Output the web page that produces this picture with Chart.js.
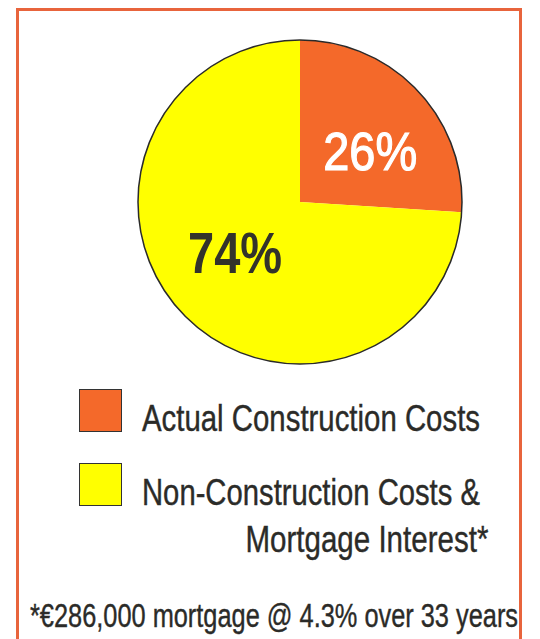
<!DOCTYPE html>
<html>
<head>
<meta charset="utf-8">
<script src="https://cdn.jsdelivr.net/npm/chart.js@4/dist/chart.umd.min.js"></script>
<style>
  html, body { margin: 0; padding: 0; background: #fff; width: 540px; height: 639px; overflow: hidden; }
  body { position: relative; font-family: "Liberation Sans", Arial, sans-serif; color: #2b2b28; }
  #frame { position: absolute; left: 16px; top: 8px; width: 500px; height: 700px; border: 3px solid #e8643c; box-sizing: content-box; }
  #pieWrap { position: absolute; left: 136px; top: 38px; width: 328px; height: 328px; }
  .sw { position: absolute; left: 79px; width: 41px; height: 41px; border: 1.5px solid #333; }
  .txt { position: absolute; white-space: nowrap; line-height: 1; transform-origin: left top; -webkit-text-stroke: 0.4px #2b2b28; }
  .txt.right { transform-origin: right top; }
</style>
</head>
<body>
<div id="frame"></div>
<div id="pieWrap"><canvas id="pie" width="328" height="328"></canvas></div>

<div class="sw" id="sw0" style="top:389px;"></div>
<div class="sw" id="sw1" style="top:463px;"></div>
<div class="txt" id="lg0" style="left:142px; top:400px; font-size:37px;" data-w="338">Actual Construction Costs</div>
<div class="txt" id="lg1" style="left:142px; top:474px; font-size:37px;" data-w="338">Non-Construction Costs &amp;</div>
<div class="txt right" id="lg2" style="top:521px; font-size:37px;" data-w="243" data-r="488">Mortgage Interest*</div>
<div class="txt" id="foot" style="left:30px; top:599px; font-size:33.5px;" data-w="488">*€286,000 mortgage @ 4.3% over 33 years</div>

<script>
// ---- data ----
const categories = ["Actual Construction Costs", "Non-Construction Costs & Mortgage Interest*"];
const shares = [26, 74];
const sliceColors = ["#f4692a", "#ffff00"];
const pctLabels = ["26%", "74%"];
const pctLabelColors = ["#ffffff", "#33332b"];

// legend swatches
document.getElementById('sw0').style.background = sliceColors[0];
document.getElementById('sw1').style.background = sliceColors[1];

// fit text widths horizontally
document.querySelectorAll('.txt').forEach(el => {
  const w = el.getBoundingClientRect().width;
  const target = parseFloat(el.dataset.w);
  const s = target / w;
  if (el.dataset.r) {
    el.style.left = (parseFloat(el.dataset.r) - w) + 'px';
  }
  el.style.transform = 'scaleX(' + s + ')';
});

const labelPlugin = {
  id: 'pieLabels',
  afterDatasetsDraw(chart) {
    const ctx = chart.ctx;
    const meta = chart.getDatasetMeta(0);
    const a0 = meta.data[0];
    // outer outline
    ctx.save();
    ctx.beginPath();
    ctx.arc(a0.x, a0.y, a0.outerRadius, 0, Math.PI * 2);
    ctx.lineWidth = 1.5;
    ctx.strokeStyle = '#2a2a2a';
    ctx.stroke();
    ctx.restore();
    const cfg = [
      { frac: 0.535, size: 53, weight: '', w: 94, dx: 7, dy: 8, stroke: 1.2 },
      { frac: 0.508, size: 57, weight: 'bold ', w: 94, dx: -5, dy: -6, stroke: 0 }
    ];
    meta.data.forEach((arc, i) => {
      const mid = (arc.startAngle + arc.endAngle) / 2;
      const r = arc.outerRadius * cfg[i].frac;
      const x = arc.x + Math.cos(mid) * r + cfg[i].dx;
      const y = arc.y + Math.sin(mid) * r + cfg[i].dy;
      ctx.save();
      ctx.font = cfg[i].weight + cfg[i].size + 'px "Liberation Sans", Arial, sans-serif';
      const mw = ctx.measureText(pctLabels[i]).width;
      const cap = cfg[i].size * 0.716;
      ctx.translate(x, y + cap / 2);
      ctx.scale(cfg[i].w / mw, 1);
      ctx.fillStyle = pctLabelColors[i];
      ctx.textAlign = 'center';
      ctx.textBaseline = 'alphabetic';
      ctx.fillText(pctLabels[i], 0, 0);
      if (cfg[i].stroke) {
        ctx.lineWidth = cfg[i].stroke;
        ctx.strokeStyle = pctLabelColors[i];
        ctx.strokeText(pctLabels[i], 0, 0);
      }
      ctx.restore();
    });
  }
};

new Chart(document.getElementById('pie'), {
  type: 'pie',
  data: {
    labels: categories,
    datasets: [{ data: shares, backgroundColor: sliceColors, borderWidth: 0 }]
  },
  options: {
    responsive: false,
    animation: false,
    events: [],
    layout: { padding: 2 },
    plugins: { legend: { display: false }, tooltip: { enabled: false } }
  },
  plugins: [labelPlugin]
});
</script>
</body>
</html>
